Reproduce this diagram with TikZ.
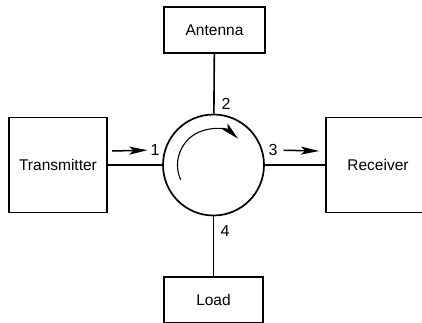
\documentclass[tikz,border=0pt]{standalone}
\usepackage{fontspec}
\setmainfont{Liberation Sans}
\usetikzlibrary{arrows.meta, positioning}

\begin{document}
\begin{tikzpicture}[
    x=1pt, y=-1pt,
    block/.style={rectangle, draw, line width=1.6pt, inner sep=0pt,
                  font=\fontsize{15.5}{18}\selectfont},
    port/.style={font=\fontsize{16}{18}\selectfont, inner sep=1pt},
    wire/.style={line width=1.6pt},
    flow/.style={-{Stealth[length=18pt,width=8pt,inset=4pt]}, line width=1.5pt}
]
\useasboundingbox (0,0) rectangle (422,322);

% Blocks
\node[circle, draw, line width=1.7pt, minimum size=101pt, inner sep=0pt] (circ) at (213.5,165) {};
\node[block, minimum width=98pt, minimum height=95pt] (tx) at (58,165) {Transmitter};
\node[block, minimum width=104pt, minimum height=95pt] (rx) at (378,165) {Receiver};
\node[block, minimum width=101pt, minimum height=46pt] (ant) at (214.5,30) {Antenna};
\node[block, minimum width=99pt, minimum height=46pt] (load) at (213.5,300) {Load};

% Lines
\draw[wire] (tx) -- (circ);
\draw[wire] (circ) -- (rx);
\draw[wire] (ant) -- (circ);
\draw[wire] (circ) -- (load);

% Port numbers
\node[port] (p1) at (155,150) {1};
\node[port] (p2) at (226,104) {2};
\node[port] (p3) at (273,150) {3};
\node[port] (p4) at (225,231) {4};

% Power flow
\coordinate (in1) at (112,151);
\coordinate (out3) at (319,151);
\draw[flow, shorten >=2pt] (in1) -- (p1);
\draw[flow, shorten <=5pt] (p3) -- (out3);
\draw[flow, line width=1.1pt] ([shift={(204:36pt)}]circ.center)
    arc[start angle=204, end angle=47, radius=36pt];
\end{tikzpicture}
\end{document}
